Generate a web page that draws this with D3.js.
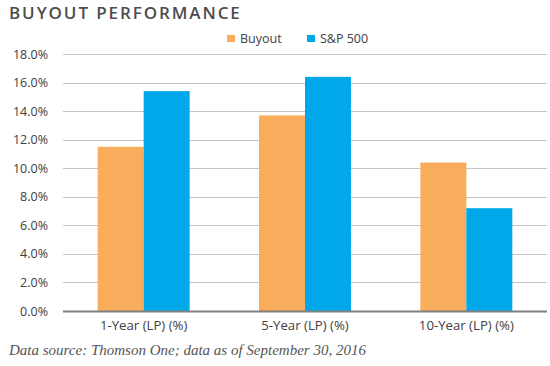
<!DOCTYPE html>
<html><head><meta charset="utf-8">
<script src="https://cdn.jsdelivr.net/npm/d3@7"></script>
<style>body{margin:0;background:#fff}svg{display:block}</style>
</head><body>
<svg id="c" width="550" height="366"></svg>
<script>
const categories = ["1-Year (LP) (%)", "5-Year (LP) (%)", "10-Year (LP) (%)"];
const seriesNames = ["Buyout", "S&P 500"];
const buyout = [11.5, 13.7, 10.4];
const sp500 = [15.4, 16.4, 7.2];
const yTicks = [0, 2, 4, 6, 8, 10, 12, 14, 16, 18];
const colors = ["#F9AC5C", "#00A8E9"];

const svg = d3.select("#c");
const pL = 63, pR = 547, pT = 54, pB = 311;
const x0 = d3.scaleBand().domain(categories).range([pL, pR]).paddingInner(0.43).paddingOuter(0.215);
const x1 = d3.scaleBand().domain(seriesNames).range([0, x0.bandwidth()]);
const y = d3.scaleLinear().domain([0, 18]).range([pB, pT]);
const fmt = d => d.toFixed(1) + "%";

// gridlines
svg.append("g").selectAll("line").data(yTicks.filter(d => d > 0)).join("line")
  .attr("x1", pL).attr("x2", pR)
  .attr("y1", d => Math.round(y(d)) + 0.5).attr("y2", d => Math.round(y(d)) + 0.5)
  .attr("stroke", "#c4c4c4").attr("stroke-width", 1);

// y axis labels
const yAxis = d3.axisLeft(y).tickValues(yTicks).tickFormat(fmt).tickSize(0).tickPadding(0);
const ga = svg.append("g").attr("transform", `translate(48,0)`).call(yAxis);
ga.select(".domain").remove();
ga.selectAll("text").attr("font-family", "Open Sans, sans-serif").attr("font-size", 12.5).attr("fill", "#404040");

// bars
const data = categories.map((c, i) => ({c, vals: [buyout[i], sp500[i]]}));
const g = svg.append("g").selectAll("g").data(data).join("g")
  .attr("transform", d => `translate(${x0(d.c)},0)`);
g.selectAll("rect").data(d => d.vals.map((v, j) => ({s: seriesNames[j], v, j}))).join("rect")
  .attr("x", d => x1(d.s)).attr("width", x1.bandwidth())
  .attr("y", d => y(d.v)).attr("height", d => y(0) - y(d.v))
  .attr("fill", d => colors[d.j]);

// baseline
svg.append("line").attr("x1", pL).attr("x2", pR).attr("y1", pB + 0.5).attr("y2", pB + 0.5)
  .attr("stroke", "#808080").attr("stroke-width", 2);

// x axis labels
const xAxis = d3.axisBottom(x0).tickSize(0).tickPadding(0);
const gx = svg.append("g").attr("transform", `translate(0,${pB + 10})`).call(xAxis);
gx.select(".domain").remove();
gx.selectAll("text").attr("font-family", "Open Sans, sans-serif").attr("font-size", 13.2).attr("fill", "#404040");

// title
svg.append("text").attr("x", 9).attr("y", 18.5).text("BUYOUT PERFORMANCE")
  .attr("font-family", "Open Sans, sans-serif").attr("font-size", 17).attr("font-weight", 600)
  .attr("letter-spacing", 1.9).attr("fill", "#4d4d4d");

// legend
const legX = [227, 307];
seriesNames.forEach((s, i) => {
  svg.append("rect").attr("x", legX[i]).attr("y", 35).attr("width", 8).attr("height", 7).attr("fill", colors[i]);
  svg.append("text").attr("x", legX[i] + 13).attr("y", 42.5).text(s)
    .attr("font-family", "Open Sans, sans-serif").attr("font-size", 12.5).attr("fill", "#404040");
});

// caption
svg.append("text").attr("x", 9).attr("y", 355).text("Data source: Thomson One; data as of September 30, 2016")
  .attr("font-family", "Liberation Serif, serif").attr("font-style", "italic").attr("font-size", 15).attr("fill", "#555");
</script>
</body></html>
